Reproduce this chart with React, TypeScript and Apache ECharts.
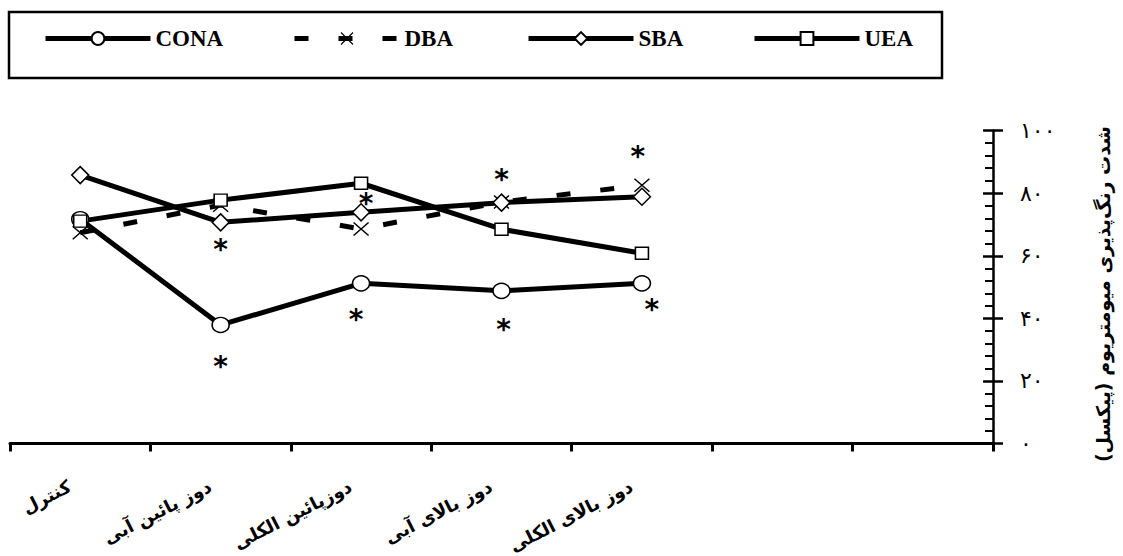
import React, { useEffect, useRef } from "react";
import * as echarts from "echarts";

const categories = ["کنترل", "دوز پائین آبی", "دوزپائین الکلی", "دوز بالای آبی", "دوز بالای الکلی", "", ""];
const seriesNames = ["CONA", "DBA", "SBA", "UEA"];
const conaValues = [71.7, 37.9, 51.2, 48.8, 51.2];
const dbaValues = [67.4, 76.2, 68.6, 77.2, 82.6];
const sbaValues = [85.8, 70.7, 73.9, 77.0, 78.9];
const ueaValues = [71.1, 77.8, 83.2, 68.5, 60.8];
const yTickLabels = ["۰", "۲۰", "۴۰", "۶۰", "۸۰", "۱۰۰"];
const yAxisTitle = "شدت رنگ‌پذیری میومتریوم (پیکسل)";
// significance markers: [category index, value]
const asteriskPoints = [
  [1, 64.2], [1, 27.0], [2, 79.1], [2, 41.9],
  [3, 86.6], [3, 38.6], [4, 94.0], [4, 45.0],
];

const asteriskOffsetX = [0, 0, 5, -5, 0, 2, -4, 10];

const crossPath =
  "path://M0,2L2,0L32,26L30,28ZM30,0L32,2L2,28L0,26Z";

export default function App() {
  const ref = useRef<HTMLDivElement>(null);
  useEffect(() => {
    if (!ref.current) return;
    const chart = echarts.init(ref.current, null, { renderer: "svg" });
    const black = "#000";
    const hollow = { color: "#fff", borderColor: black, borderWidth: 1.5 };
    const legendText = {
      fontFamily: "Liberation Serif",
      fontWeight: "bold" as const,
      fontSize: 23,
      color: black,
      padding: [10, 0, 0, 0],
    };
    const legendLefts = [43, 292, 526, 752];
    const option: any = {
      animation: false,
      backgroundColor: "#fff",
      grid: {
        left: 10,
        right: 130,
        top: 130.7,
        bottom: 112.5,
        containLabel: false,
        outerBoundsMode: "none",
      },
      legend: seriesNames.map((n, i) => ({
        data: [n],
        left: legendLefts[i],
        top: 27,
        padding: 0,
        itemWidth: 105,
        itemHeight: 16,
        lineStyle: { width: 5 },
        textStyle: legendText,
        selectedMode: false,
      })),
      graphic: [
        {
          type: "rect",
          shape: { x: 9, y: 12, width: 933, height: 66 },
          style: { fill: "none", stroke: black, lineWidth: 2.5 },
          silent: true,
        },
      ],
      xAxis: {
        type: "category",
        data: categories,
        boundaryGap: true,
        axisLine: { lineStyle: { color: black, width: 3 } },
        axisTick: { show: true, length: 8, lineStyle: { color: black, width: 3 } },
        axisLabel: {
          interval: 0,
          rotate: 27,
          margin: 36,
          padding: [0, 12, 0, 0],
          fontFamily: "DejaVu Sans",
          fontWeight: "bold",
          fontSize: 18,
          color: black,
        },
        splitLine: { show: false },
      },
      yAxis: [
        {
          type: "value",
          position: "right",
          min: 0,
          max: 100,
          interval: 20,
          name: yAxisTitle,
          nameLocation: "middle",
          nameGap: 100,
          nameRotate: 90,
          nameTextStyle: {
            fontFamily: "DejaVu Sans",
            fontWeight: "bold",
            fontSize: 19,
            color: black,
            padding: [0, 14, 0, 0],
          },
          axisLine: { show: true, lineStyle: { color: black, width: 2.5 } },
          axisTick: { show: true, inside: false, length: 10, lineStyle: { color: black, width: 2.5 } },
          axisLabel: {
            margin: 27,
            fontFamily: "DejaVu Sans",
            fontSize: 22,
            color: black,
            formatter: (v: number) => yTickLabels[Math.round(v / 20)],
          },
          splitLine: { show: false },
        },
        {
          type: "value",
          position: "right",
          min: 0,
          max: 100,
          interval: 20,
          axisLine: { show: false },
          axisTick: { show: true, inside: true, length: 10, lineStyle: { color: black, width: 2.5 } },
          minorTick: { show: true, splitNumber: 5, length: 8, lineStyle: { color: black, width: 2 } },
          axisLabel: { show: false },
          splitLine: { show: false },
        },
      ],
      series: [
        {
          name: "CONA",
          type: "line",
          data: conaValues,
          symbol: "circle",
          symbolSize: [17, 15],
          lineStyle: { color: black, width: 5 },
          itemStyle: hollow,
        },
        {
          name: "DBA",
          type: "line",
          data: dbaValues,
          symbol: crossPath,
          symbolSize: [16, 14],
          lineStyle: { color: black, width: 5, type: [14, 30] },
          itemStyle: { color: black, borderWidth: 0 },
        },
        {
          name: "SBA",
          type: "line",
          data: sbaValues,
          symbol: "diamond",
          symbolSize: [17, 17],
          lineStyle: { color: black, width: 5 },
          itemStyle: hollow,
        },
        {
          name: "UEA",
          type: "line",
          data: ueaValues,
          symbol: "rect",
          symbolSize: [13, 12],
          lineStyle: { color: black, width: 5 },
          itemStyle: hollow,
        },
        {
          name: "sig",
          type: "scatter",
          data: asteriskPoints.map((p, i) => ({
            value: p,
            label: { offset: [asteriskOffsetX[i], 7] },
          })),
          symbol: "circle",
          symbolSize: 1,
          itemStyle: { color: "rgba(0,0,0,0)" },
          label: {
            show: true,
            position: "inside",
            formatter: "*",
            fontFamily: "DejaVu Sans",
            fontWeight: "bold",
            fontSize: 28,
            color: "#000",
            textBorderWidth: 0,
            textBorderColor: "transparent",
            opacity: 1,
          },
          silent: true,
          z: 5,
        },
      ],
    };
    chart.setOption(option);
    return () => chart.dispose();
  }, []);
  return (
    <div
      ref={ref}
      style={{ position: "absolute", left: 0, top: 0, width: 1123, height: 556, background: "#fff" }}
    />
  );
}
